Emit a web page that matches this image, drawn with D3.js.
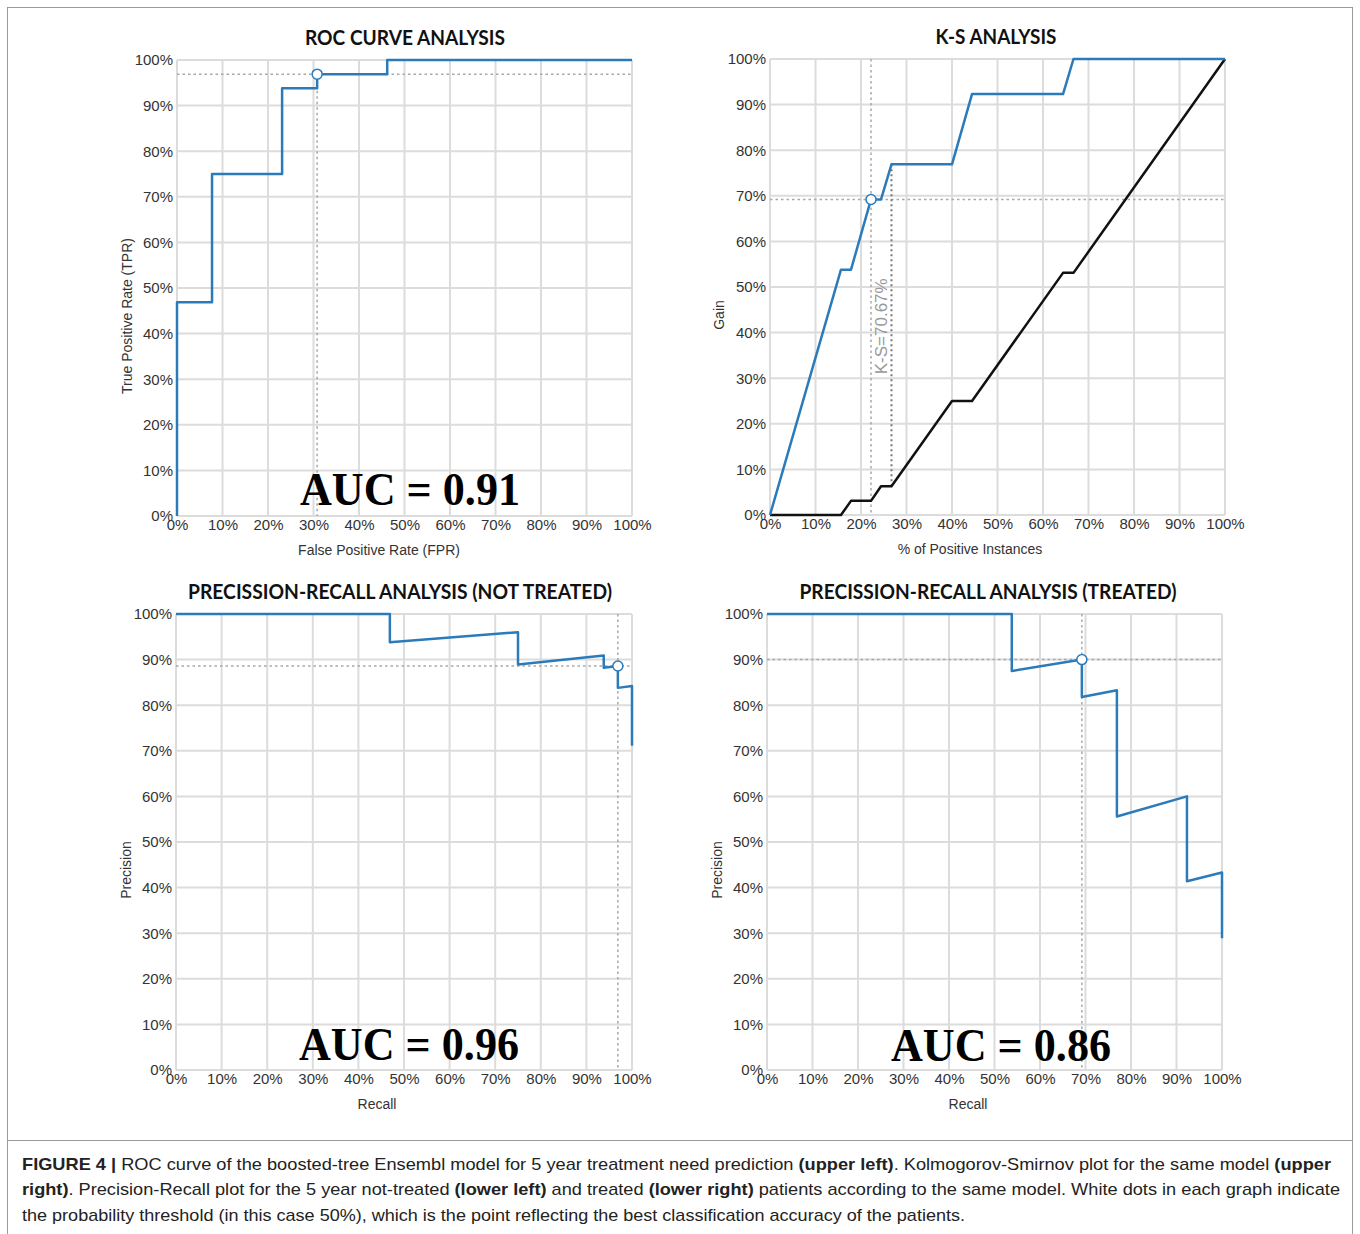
<!DOCTYPE html>
<html>
<head>
<meta charset="utf-8">
<script src="https://cdn.jsdelivr.net/npm/d3@7"></script>
<style>
  body { margin: 0; background: #fff; }
</style>
</head>
<body>
<div id="fig"></div>
<script>
// tick values / labels shared by all four panels
var pctTicks = [0, 0.1, 0.2, 0.3, 0.4, 0.5, 0.6, 0.7, 0.8, 0.9, 1]
var pctLabels = ["0%", "10%", "20%", "30%", "40%", "50%", "60%", "70%", "80%", "90%", "100%"]

// ROC curve (upper left)
var rocFpr = [0, 0, 0.077, 0.077, 0.231, 0.231, 0.308, 0.308, 0.462, 0.462, 1]
var rocTpr = [0, 0.469, 0.469, 0.75, 0.75, 0.938, 0.938, 0.969, 0.969, 1, 1]
var rocPoint = [0.308, 0.969]

// K-S (upper right)
var ksBlueX = [0, 0.156, 0.178, 0.222, 0.244, 0.267, 0.400, 0.444, 0.644, 0.667, 1]
var ksBlueY = [0, 0.538, 0.538, 0.692, 0.692, 0.769, 0.769, 0.923, 0.923, 1, 1]
var ksBlackX = [0, 0.156, 0.178, 0.222, 0.244, 0.267, 0.400, 0.444, 0.644, 0.667, 1]
var ksBlackY = [0, 0, 0.031, 0.031, 0.063, 0.063, 0.25, 0.25, 0.531, 0.531, 1]
var ksPoint = [0.222, 0.692]
var ksGap = [0.267, 0.063, 0.769]   // x, low, high
var ksLabel = "K-S=70.67%"

// Precision-recall, not treated (lower left)
var prNtX = [0, 0.469, 0.469, 0.75, 0.75, 0.938, 0.938, 0.969, 0.969, 1, 1]
var prNtY = [1, 1, 0.938, 0.96, 0.889, 0.909, 0.882, 0.886, 0.838, 0.842, 0.711]
var prNtPoint = [0.969, 0.886]

// Precision-recall, treated (lower right)
var prTX = [0, 0.538, 0.538, 0.692, 0.692, 0.769, 0.769, 0.923, 0.923, 1, 1]
var prTY = [1, 1, 0.875, 0.9, 0.818, 0.833, 0.556, 0.6, 0.414, 0.433, 0.289]
var prTPoint = [0.692, 0.9]

var blue = "#2b7bba"

var svg = d3.select("#fig").append("svg")
  .attr("width", 1360).attr("height", 1234)

// figure frame
svg.append("rect").attr("x", 7.5).attr("y", 7.5).attr("width", 1345).attr("height", 1250)
  .attr("fill", "none").attr("stroke", "#9a9a9a").attr("stroke-width", 1)
svg.append("line").attr("x1", 7).attr("x2", 1353).attr("y1", 1140.5).attr("y2", 1140.5)
  .attr("stroke", "#9a9a9a")

function zip(xs, ys){ return xs.map((d, i) => ({x: d, y: ys[i]})) }

function makePanel(p){
  var g = svg.append("g").attr("transform", "translate(" + p.left + "," + p.top + ")")
  var w = p.width, h = p.height
  var x = d3.scaleLinear().domain([0, 1]).range([0, w])
  var y = d3.scaleLinear().domain([0, 1]).range([h, 0])

  // grid
  g.append("g").attr("stroke", "#dcdcdc").attr("stroke-width", 2)
    .call(gg => gg.selectAll(".vx").data(pctTicks).join("line")
      .attr("x1", d => x(d)).attr("x2", d => x(d)).attr("y1", 0).attr("y2", h))
    .call(gg => gg.selectAll(".hy").data(pctTicks).join("line").attr("class", "hy")
      .attr("y1", d => y(d)).attr("y2", d => y(d)).attr("x1", 0).attr("x2", w))

  // axes (tick labels only)
  var xAxis = g.append("g").attr("transform", "translate(0," + h + ")")
    .call(d3.axisBottom(x).tickValues(pctTicks).tickFormat((d, i) => pctLabels[i]).tickSize(0).tickPadding(3))
  var yAxis = g.append("g")
    .call(d3.axisLeft(y).tickValues(pctTicks).tickFormat((d, i) => pctLabels[i]).tickSize(0).tickPadding(4))
  ;[xAxis, yAxis].forEach(a => {
    a.select(".domain").remove()
    a.selectAll("text").attr("fill", "#333").style("font-family", "'Liberation Sans', Arial, sans-serif").style("font-size", "15px")
  })

  // threshold guides
  var pt = p.point
  g.append("line").attr("x1", 0).attr("x2", w).attr("y1", y(pt[1])).attr("y2", y(pt[1]))
    .attr("stroke", "#a8a8a8").attr("stroke-width", 1.5).attr("stroke-dasharray", "2.5,3")
  g.append("line").attr("x1", x(pt[0])).attr("x2", x(pt[0])).attr("y1", p.vFull ? 0 : y(pt[1])).attr("y2", h)
    .attr("stroke", "#a8a8a8").attr("stroke-width", 1.5).attr("stroke-dasharray", "2.5,3")

  if (p.extra) p.extra(g, x, y)

  var line = d3.line().x(d => x(d.x)).y(d => y(d.y))
  p.series.forEach(s => {
    g.append("path").datum(s.data).attr("fill", "none")
      .attr("stroke", s.color).attr("stroke-width", 2.5).attr("stroke-linejoin", "round")
      .attr("d", line)
  })

  g.append("circle").attr("cx", x(pt[0])).attr("cy", y(pt[1])).attr("r", 5)
    .attr("fill", "#fff").attr("stroke", blue).attr("stroke-width", 1.5)

  // title
  g.append("text").attr("x", p.titleX).attr("y", -15).attr("text-anchor", "middle")
    .style("font-family", "Lato, 'Open Sans', sans-serif").style("font-weight", "bold").style("font-size", "20px")
    .attr("fill", "#111").attr("textLength", p.titleLen).attr("lengthAdjust", "spacingAndGlyphs")
    .text(p.title)

  // axis titles
  g.append("text").attr("x", p.xLabelX).attr("y", h + 39).attr("text-anchor", "middle")
    .style("font-family", "'Liberation Sans', Arial, sans-serif").style("font-size", "14px").attr("fill", "#333")
    .text(p.xLabel)
  g.append("text").attr("transform", "translate(" + p.yLabelDx + "," + (h / 2 + 28) + ") rotate(-90)")
    .attr("text-anchor", "middle")
    .style("font-family", "'Liberation Sans', Arial, sans-serif").style("font-size", "14px").attr("fill", "#333")
    .text(p.yLabel)

  // AUC label
  if (p.auc){
    g.append("text").attr("x", p.aucX).attr("y", h - p.aucDy).attr("text-anchor", "middle")
      .style("font-family", "'Liberation Serif', 'DejaVu Serif', serif").style("font-weight", "bold")
      .style("font-size", "47px").attr("fill", "#000")
      .attr("textLength", 220).attr("lengthAdjust", "spacingAndGlyphs")
      .text(p.auc)
  }
}

makePanel({left: 177, top: 60, width: 455, height: 456,
  title: "ROC CURVE ANALYSIS", titleX: 228, titleLen: 200,
  xLabel: "False Positive Rate (FPR)", xLabelX: 202,
  yLabel: "True Positive Rate (TPR)", yLabelDx: -45,
  point: rocPoint, vFull: false,
  series: [{data: zip(rocFpr, rocTpr), color: blue}],
  auc: "AUC = 0.91", aucX: 233, aucDy: 11})

makePanel({left: 770, top: 59, width: 455, height: 456,
  title: "K-S ANALYSIS", titleX: 226, titleLen: 121,
  xLabel: "% of Positive Instances", xLabelX: 200,
  yLabel: "Gain", yLabelDx: -46,
  point: ksPoint, vFull: true,
  series: [{data: zip(ksBlackX, ksBlackY), color: "#111"}, {data: zip(ksBlueX, ksBlueY), color: blue}],
  extra: function(g, x, y){
    g.append("line").attr("x1", x(ksGap[0])).attr("x2", x(ksGap[0]))
      .attr("y1", y(ksGap[2])).attr("y2", y(ksGap[1]))
      .attr("stroke", "#777").attr("stroke-width", 2).attr("stroke-dasharray", "2,3")
    var mid = (y(ksGap[1]) + y(ksGap[2])) / 2 + 1
    g.append("text").attr("transform", "translate(" + (x(ksGap[0]) - 4) + "," + mid + ") rotate(-90)")
      .attr("text-anchor", "middle")
      .style("font-family", "'Liberation Sans', Arial, sans-serif").style("font-size", "17px").attr("fill", "#999")
      .text(ksLabel)
  }})

makePanel({left: 176, top: 614, width: 456, height: 456,
  title: "PRECISSION-RECALL ANALYSIS (NOT TREATED)", titleX: 224, titleLen: 424,
  xLabel: "Recall", xLabelX: 201,
  yLabel: "Precision", yLabelDx: -45,
  point: prNtPoint, vFull: true,
  series: [{data: zip(prNtX, prNtY), color: blue}],
  auc: "AUC = 0.96", aucX: 233, aucDy: 10})

makePanel({left: 767, top: 614, width: 455, height: 456,
  title: "PRECISSION-RECALL ANALYSIS (TREATED)", titleX: 221, titleLen: 377,
  xLabel: "Recall", xLabelX: 201,
  yLabel: "Precision", yLabelDx: -45,
  point: prTPoint, vFull: true,
  series: [{data: zip(prTX, prTY), color: blue}],
  auc: "AUC = 0.86", aucX: 234, aucDy: 9})

// caption
var captionLines = [
  [["FIGURE 4 | ", true], ["ROC curve of the boosted-tree Ensembl model for 5 year treatment need prediction ", false],
   ["(upper left)", true], [". Kolmogorov-Smirnov plot for the same model ", false], ["(upper", true]],
  [["right)", true], [". Precision-Recall plot for the 5 year not-treated ", false], ["(lower left)", true],
   [" and treated ", false], ["(lower right)", true],
   [" patients according to the same model. White dots in each graph indicate", false]],
  [["the probability threshold (in this case 50%), which is the point reflecting the best classification accuracy of the patients.", false]]
]
var captionWidths = [1309, 1318, 943]
var captionY = [1170, 1195, 1221]

captionLines.forEach((parts, i) => {
  var t = svg.append("text").attr("x", 22).attr("y", captionY[i])
    .style("font-family", "'Liberation Sans Narrow', 'Liberation Sans', Arial, sans-serif")
    .style("font-size", "17px").attr("fill", "#222")
    .attr("textLength", captionWidths[i]).attr("lengthAdjust", "spacingAndGlyphs")
  t.selectAll("tspan").data(parts).join("tspan")
    .style("font-weight", d => d[1] ? "bold" : "normal")
    .text(d => d[0])
})
</script>
</body>
</html>
